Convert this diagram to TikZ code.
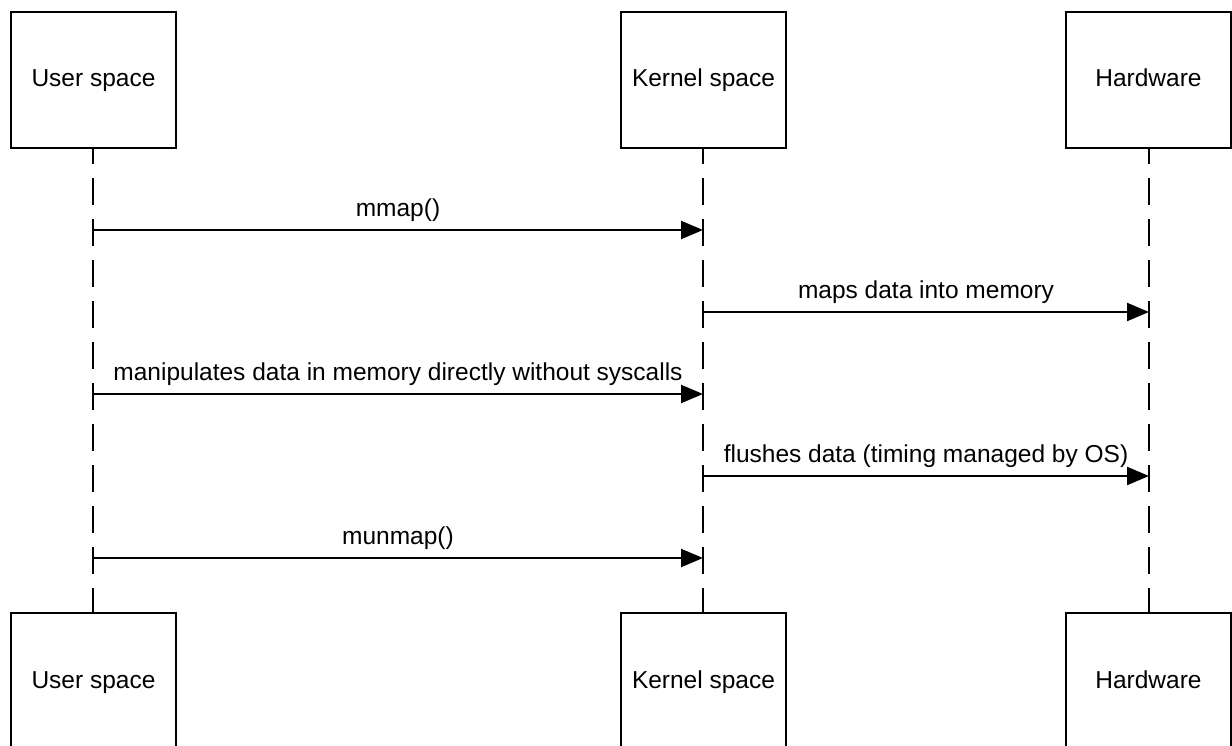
\documentclass[tikz,border=0pt]{standalone}
\usepackage{fontspec}
\setmainfont{Liberation Sans}
\usetikzlibrary{arrows.meta}
\begin{document}
\begin{tikzpicture}[x=1pt,y=-1pt,
  actor/.style={draw=black,line width=2.4pt,minimum width=165pt,minimum height=136pt,
    inner sep=0pt,text height=17pt,text depth=3pt,
    font=\fontsize{24.5}{28}\selectfont,fill=white},
  lifeline/.style={line width=2.2pt,dash pattern=on 27pt off 14pt,dash phase=11pt},
  msg/.style={line width=2.2pt,-{Triangle[length=22pt,width=18pt]}},
  msglabel/.style={font=\fontsize{24.5}{28}\selectfont,above=4pt,midway}]
\useasboundingbox (0,0) rectangle (1232,746);
\clip (0,0) rectangle (1232,746);
\fill[white] (0,0) rectangle (1232,746);

% lifelines first, so the boxes sit on top
\coordinate (uT) at (93,148);  \coordinate (uB) at (93,613);
\coordinate (kT) at (703,148); \coordinate (kB) at (703,613);
\coordinate (hT) at (1149,148);\coordinate (hB) at (1149,613);
\draw[lifeline] (uT) -- (uB);
\draw[lifeline] (kT) -- (kB);
\draw[lifeline] (hT) -- (hB);

% participant boxes
\node[actor] (userTop)   at (93.5,80)  {User space};
\node[actor] (kernelTop) at (703.5,80) {Kernel space};
\node[actor] (hwTop)     at (1148.5,80)  {Hardware};
\node[actor] (userBot)   at (93.5,681)  {User space};
\node[actor] (kernelBot) at (703.5,681) {Kernel space};
\node[actor] (hwBot)     at (1148.5,681)  {Hardware};

% message anchors on the lifelines
\coordinate (u1) at (93,230);  \coordinate (k1) at (703,230);
\coordinate (k2) at (703,312); \coordinate (h2) at (1149,312);
\coordinate (u3) at (93,394);  \coordinate (k3) at (703,394);
\coordinate (k4) at (703,476); \coordinate (h4) at (1149,476);
\coordinate (u5) at (93,558);  \coordinate (k5) at (703,558);

% messages
\draw[msg] (u1) -- (k1) node[msglabel] {mmap()};
\draw[msg] (k2) -- (h2) node[msglabel] {maps data into memory};
\draw[msg] (u3) -- (k3) node[msglabel] {manipulates data in memory directly without syscalls};
\draw[msg] (k4) -- (h4) node[msglabel] {flushes data (timing managed by OS)};
\draw[msg] (u5) -- (k5) node[msglabel] {munmap()};
\end{tikzpicture}
\end{document}
